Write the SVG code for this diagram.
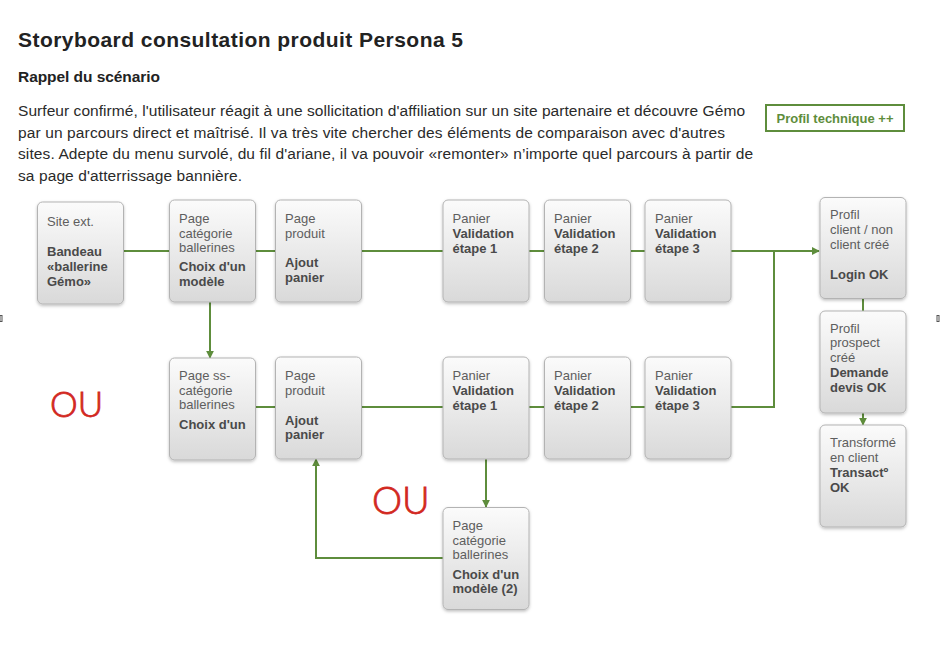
<svg xmlns="http://www.w3.org/2000/svg" width="940" height="662" viewBox="0 0 940 662">
<defs>
  <linearGradient id="boxg" x1="0" y1="0" x2="0" y2="1">
    <stop offset="0" stop-color="#fbfbfb"/>
    <stop offset="1" stop-color="#d9d9d9"/>
  </linearGradient>
  <filter id="sh" x="-10%" y="-10%" width="130%" height="130%">
    <feDropShadow dx="0" dy="1.5" stdDeviation="1.5" flood-color="#000" flood-opacity="0.25"/>
  </filter>
  <marker id="arr" viewBox="0 0 10 10" refX="9" refY="5" markerWidth="8" markerHeight="8" markerUnits="userSpaceOnUse" orient="auto">
    <path d="M0,0 L10,5 L0,10 Z" fill="#5e8d3c"/>
  </marker>
</defs>
<style>
  .box { fill: url(#boxg); stroke: #b3b3b3; stroke-width: 1; filter: url(#sh); }
  .t { font-family: "Liberation Sans", Arial, sans-serif; font-size: 13px; fill: #5e5e5e; }
  .b { font-family: "Liberation Sans", Arial, sans-serif; font-size: 13px; font-weight: bold; fill: #4a4a4a; }
  .c { fill: none; stroke: #5e8d3c; stroke-width: 2; }
  .ou { font-family: Lato, "Liberation Sans", Arial, sans-serif; font-weight: 300; fill: #d2281f; stroke: #d2281f; stroke-width: 0.8; }
  .p { font-family: "Liberation Sans", Arial, sans-serif; font-size: 15.5px; fill: #2a2a2a; }
</style>
<rect width="940" height="662" fill="#ffffff"/>

<text x="18" y="47" font-family="Liberation Sans, Arial, sans-serif" font-size="21" font-weight="bold" fill="#222" textLength="445">Storyboard consultation produit Persona 5</text>
<text x="18" y="82" font-family="Liberation Sans, Arial, sans-serif" font-size="15.5" font-weight="bold" fill="#222" textLength="142">Rappel du scénario</text>
<text class="p" x="18" y="116" textLength="727">Surfeur confirmé, l'utilisateur réagit à une sollicitation d'affiliation sur un site partenaire et découvre Gémo</text>
<text class="p" x="18" y="137.5" textLength="707">par un parcours direct et maîtrisé. Il va très vite chercher des éléments de comparaison avec d'autres</text>
<text class="p" x="18" y="159" textLength="735">sites. Adepte du menu survolé, du fil d'ariane, il va pouvoir «remonter» n’importe quel parcours à partir de</text>
<text class="p" x="18" y="180.5" textLength="224">sa page d'atterrissage bannière.</text>

<g id="profil-technique">
  <rect x="766" y="105" width="138" height="26" fill="#fff" stroke="#5e8d3c" stroke-width="2"/>
  <text x="835" y="123" text-anchor="middle" font-family="Liberation Sans, Arial, sans-serif" font-size="13" font-weight="bold" fill="#5e8d3c">Profil technique ++</text>
</g>

<g id="connectors">
  <path class="c" d="M123,251 H169"/>
  <path class="c" d="M255,251 H276"/>
  <path class="c" d="M361,251 H443"/>
  <path class="c" d="M529,251 H544"/>
  <path class="c" d="M630,251 H645"/>
  <path class="c" d="M730,251 H819" marker-end="url(#arr)"/>
  <path class="c" d="M774,251 V407 H730"/>
  <path class="c" d="M210,302 V358" marker-end="url(#arr)"/>
  <path class="c" d="M255,407 H276"/>
  <path class="c" d="M361,407 H443"/>
  <path class="c" d="M529,407 H544"/>
  <path class="c" d="M630,407 H645"/>
  <path class="c" d="M486,459 V507" marker-end="url(#arr)"/>
  <path class="c" d="M443,558 H316 V459" marker-end="url(#arr)"/>
  <path class="c" d="M863,298 V311"/>
  <path class="c" d="M863,413 V425" marker-end="url(#arr)"/>
</g>

<g id="site-ext">
  <rect class="box" x="37.5" y="202" width="86" height="102" rx="5"/>
  <text class="t" x="47" y="226">Site ext.</text>
  <text class="b" x="47" y="256">Bandeau</text>
  <text class="b" x="47" y="271">«ballerine</text>
  <text class="b" x="47" y="286">Gémo»</text>
</g>
<g id="page-categorie">
  <rect class="box" x="169.5" y="200" width="86" height="102" rx="5"/>
  <text class="t" x="179" y="223">Page</text>
  <text class="t" x="179" y="237.5">catégorie</text>
  <text class="t" x="179" y="252">ballerines</text>
  <text class="b" x="179" y="271">Choix d'un</text>
  <text class="b" x="179" y="286">modèle</text>
</g>
<g id="page-produit">
  <rect class="box" x="275.5" y="200" width="86" height="102" rx="5"/>
  <text class="t" x="285" y="223">Page</text>
  <text class="t" x="285" y="237.5">produit</text>
  <text class="b" x="285" y="267">Ajout</text>
  <text class="b" x="285" y="282">panier</text>
</g>
<g id="panier-1">
  <rect class="box" x="443" y="200" width="86" height="102" rx="5"/>
  <text class="t" x="452.5" y="222.5">Panier</text>
  <text class="b" x="452.5" y="237.5">Validation</text>
  <text class="b" x="452.5" y="252.5">étape 1</text>
</g>
<g id="panier-2">
  <rect class="box" x="544.5" y="200" width="86" height="102" rx="5"/>
  <text class="t" x="554" y="222.5">Panier</text>
  <text class="b" x="554" y="237.5">Validation</text>
  <text class="b" x="554" y="252.5">étape 2</text>
</g>
<g id="panier-3">
  <rect class="box" x="645" y="200" width="86" height="102" rx="5"/>
  <text class="t" x="655" y="222.5">Panier</text>
  <text class="b" x="655" y="237.5">Validation</text>
  <text class="b" x="655" y="252.5">étape 3</text>
</g>
<g id="profil-client">
  <rect class="box" x="820" y="197.5" width="86" height="101" rx="5"/>
  <text class="t" x="830" y="219">Profil</text>
  <text class="t" x="830" y="234">client / non</text>
  <text class="t" x="830" y="248.5">client créé</text>
  <text class="b" x="830" y="278.5">Login OK</text>
</g>
<g id="profil-prospect">
  <rect class="box" x="820" y="311" width="86" height="102" rx="5"/>
  <text class="t" x="830" y="332.5">Profil</text>
  <text class="t" x="830" y="347">prospect</text>
  <text class="t" x="830" y="361.5">créé</text>
  <text class="b" x="830" y="377">Demande</text>
  <text class="b" x="830" y="392">devis OK</text>
</g>
<g id="transforme">
  <rect class="box" x="820" y="425" width="86" height="102" rx="5"/>
  <text class="t" x="830" y="447">Transformé</text>
  <text class="t" x="830" y="461.5">en client</text>
  <text class="b" x="830" y="476.5">Transactº</text>
  <text class="b" x="830" y="492">OK</text>
</g>

<g id="page-ss-categorie">
  <rect class="box" x="169.5" y="358" width="86" height="102" rx="5"/>
  <text class="t" x="179" y="380">Page ss-</text>
  <text class="t" x="179" y="394.5">catégorie</text>
  <text class="t" x="179" y="409">ballerines</text>
  <text class="b" x="179" y="428.5">Choix d'un</text>
</g>
<g id="page-produit-2">
  <rect class="box" x="275.5" y="357" width="86" height="102" rx="5"/>
  <text class="t" x="285" y="380">Page</text>
  <text class="t" x="285" y="394.5">produit</text>
  <text class="b" x="285" y="424.5">Ajout</text>
  <text class="b" x="285" y="439">panier</text>
</g>
<g id="panier-1b">
  <rect class="box" x="443" y="357" width="86" height="102" rx="5"/>
  <text class="t" x="452.5" y="379.5">Panier</text>
  <text class="b" x="452.5" y="394.5">Validation</text>
  <text class="b" x="452.5" y="409.5">étape 1</text>
</g>
<g id="panier-2b">
  <rect class="box" x="544.5" y="357" width="86" height="102" rx="5"/>
  <text class="t" x="554" y="379.5">Panier</text>
  <text class="b" x="554" y="394.5">Validation</text>
  <text class="b" x="554" y="409.5">étape 2</text>
</g>
<g id="panier-3b">
  <rect class="box" x="645" y="357" width="86" height="102" rx="5"/>
  <text class="t" x="655" y="379.5">Panier</text>
  <text class="b" x="655" y="394.5">Validation</text>
  <text class="b" x="655" y="409.5">étape 3</text>
</g>
<g id="page-categorie-2">
  <rect class="box" x="443" y="507.5" width="86" height="102" rx="5"/>
  <text class="t" x="452.5" y="530">Page</text>
  <text class="t" x="452.5" y="544.5">catégorie</text>
  <text class="t" x="452.5" y="558.5">ballerines</text>
  <text class="b" x="452.5" y="578.5">Choix d'un</text>
  <text class="b" x="452.5" y="593">modèle (2)</text>
</g>

<text class="ou" x="50" y="417" font-size="35">OU</text>
<text class="ou" x="372" y="513.5" font-size="38">OU</text>

<rect x="0" y="315.5" width="2" height="6" fill="none" stroke="#555" stroke-width="1"/>
<rect x="937" y="315.5" width="2" height="6" fill="none" stroke="#555" stroke-width="1"/>
</svg>
